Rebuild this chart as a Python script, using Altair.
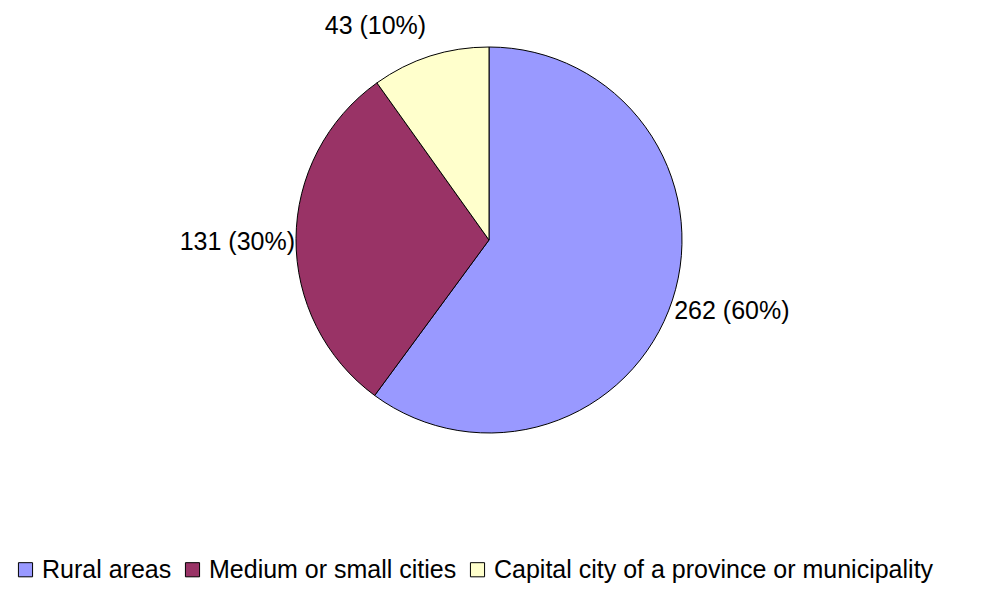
import altair as alt
import pandas as pd

categories = ["Rural areas", "Medium or small cities", "Capital city of a province or municipality"]
values = [262, 131, 43]
colors = ["#9999FF", "#993366", "#FFFFCC"]

total = sum(values)
df = pd.DataFrame({
    "category": categories,
    "value": values,
    "order": list(range(len(categories))),
})
df["label"] = [f"{v} ({round(v / total * 100)}%)" for v in values]

FONT = "Liberation Sans"
FS = 25
R = 193
theta_scale = alt.Scale(domain=[0, total])

pie = alt.Chart(df).mark_arc(stroke="black", strokeWidth=1, radius=R).encode(
    theta=alt.Theta("value:Q", stack=True, scale=theta_scale),
    order=alt.Order("order:Q"),
    color=alt.Color(
        "category:N",
        scale=alt.Scale(domain=categories, range=colors),
        sort=categories,
        legend=alt.Legend(
            title=None,
            orient="none",
            direction="horizontal",
            legendX=-276,
            legendY=517,
            symbolType="square",
            symbolSize=200,
            symbolStrokeColor="black",
            symbolStrokeWidth=1,
            symbolOpacity=1,
            labelFont=FONT,
            labelFontSize=FS,
            labelColor="black",
            columnPadding=8,
            symbolOffset=0,
            labelLimit=1000,
        ),
    ),
)

stacked = alt.Chart(df).transform_stack(
    stack="value", groupby=[], as_=["v0", "v1"], sort=[alt.SortField("order")]
).transform_calculate(mid="(datum.v0 + datum.v1) / 2")


def lab(cat, radius, align, dx, dy):
    return stacked.transform_filter(alt.datum.category == cat).mark_text(
        radius=radius, align=align, baseline="middle", dx=dx, dy=dy,
        font=FONT, fontSize=FS, color="black"
    ).encode(
        theta=alt.Theta("mid:Q", stack=None, scale=theta_scale),
        text="label:N",
    )


labels = (
    lab(categories[0], 197, "left", -2, 10)
    + lab(categories[1], 194, "right", 0, 3)
    + lab(categories[2], 215, "center", -48, -9)
)

chart = (pie + labels).properties(
    width=400,
    height=400,
    padding={"left": 281, "top": 32, "right": 285, "bottom": 146},
    autosize=alt.AutoSizeParams(type="none"),
).configure_view(stroke=None).configure(background="white")

chart.save("out.html", embed_options={"renderer": "svg", "actions": False})
